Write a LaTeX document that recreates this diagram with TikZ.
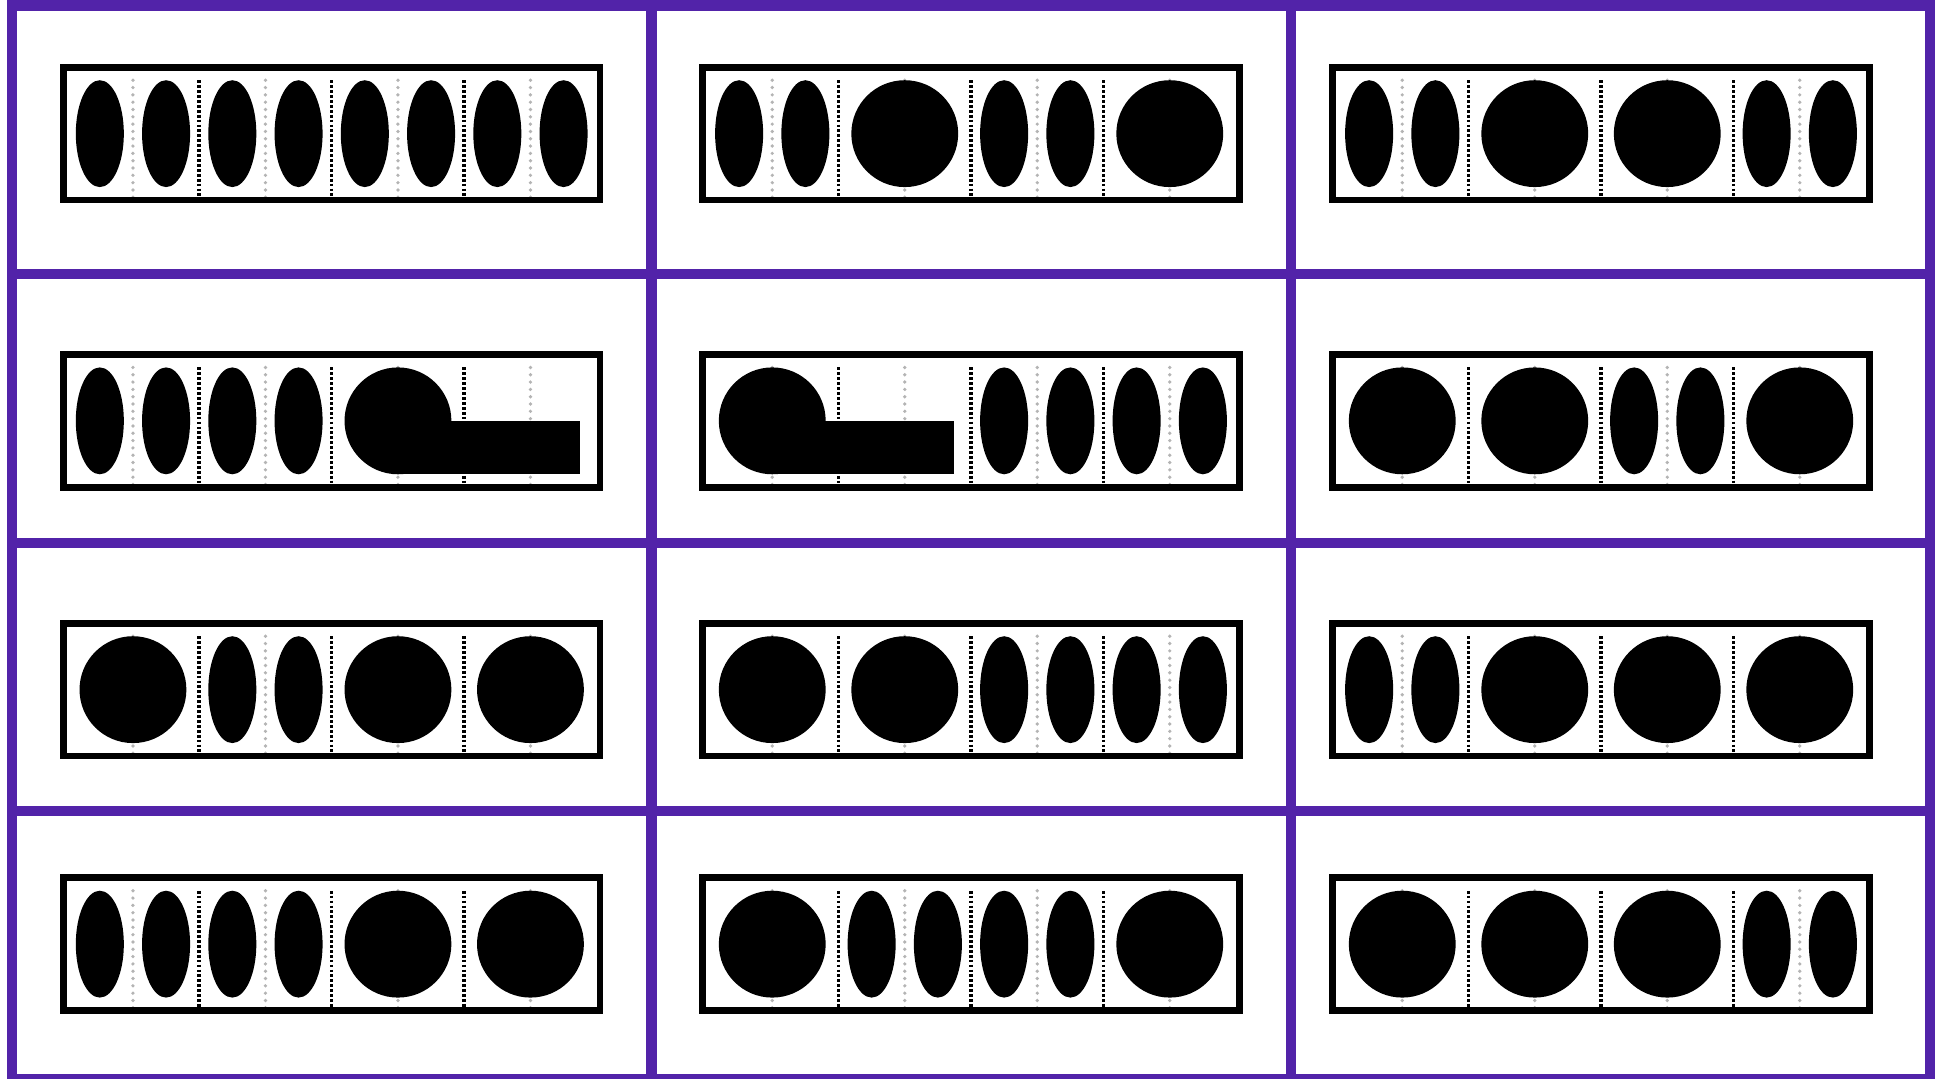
\documentclass[tikz,border=0pt]{standalone}
\usepackage{tikz}
\definecolor{gridpurple}{RGB}{82,35,169}
\definecolor{dotgray}{RGB}{180,180,180}
\tikzset{
	cellgrid/.style={draw=gridpurple, line width=2.85pt},
	barframe/.style={draw=black, line width=1.9pt},
	halfbeat/.style={draw=dotgray, line width=1.05pt, line cap=round, dash pattern=on 0pt off 2.08pt},
	fullbeat/.style={draw=black, line width=1pt, dash pattern=on 0.8pt off 0.6pt}
}
\newcommand{\rhythmbar}[3]{%
	\begin{scope}[shift={(#1,#2)}]
		\foreach \k in {1,3,5,7}
			\draw[halfbeat] (\k*66.25,-53.4) -- (\k*66.25,66);
		\foreach \k in {2,4,6}
			\draw[fullbeat] (\k*66.25,-53.4) -- (\k*66.25,66);
		\draw[barframe] (-3.35,-66.35) rectangle (533.35,66.35);
		\foreach \t [count=\b from 0] in {#3} {
			\ifcase\t
			\or
				\fill (\b*132.5+33.125,0) ellipse [x radius=0.24cm, y radius=0.534cm];
				\fill (\b*132.5+99.375,0) ellipse [x radius=0.24cm, y radius=0.534cm];
			\or
				\fill (\b*132.5+66.25,0) circle [radius=0.534cm];
			\or
				\fill (\b*132.5+66.25,0) circle [radius=0.534cm];
				\fill (\b*132.5+66.25,0) rectangle (\b*132.5+248.4,53.4);
			\fi
		}
	\end{scope}}

\begin{document}
\begin{tikzpicture}[x=0.01cm, y=-0.01cm]
		\useasboundingbox (0,0) rectangle (1939,1079);
		\draw[cellgrid] (11.7,5.5) rectangle (1930,1079.5);
		\foreach \x in {651.5,1291}
			\draw[cellgrid] (\x,5.5) -- (\x,1079.5);
		\foreach \y in {274.3,542.7,811}
			\draw[cellgrid] (11.7,\y) -- (1930,\y);
		\rhythmbar{66.7}{133.65}{1,1,1,1}
		\rhythmbar{706}{133.65}{1,2,1,2}
		\rhythmbar{1336}{133.65}{1,2,2,1}
		\rhythmbar{66.7}{420.85}{1,1,3,0}
		\rhythmbar{706}{420.85}{3,0,1,1}
		\rhythmbar{1336}{420.85}{2,2,1,2}
		\rhythmbar{66.7}{689.65}{2,1,2,2}
		\rhythmbar{706}{689.65}{2,2,1,1}
		\rhythmbar{1336}{689.65}{1,2,2,2}
		\rhythmbar{66.7}{944.15}{1,1,2,2}
		\rhythmbar{706}{944.15}{2,1,1,2}
		\rhythmbar{1336}{944.15}{2,2,2,1}
	\end{tikzpicture}
\end{document}
